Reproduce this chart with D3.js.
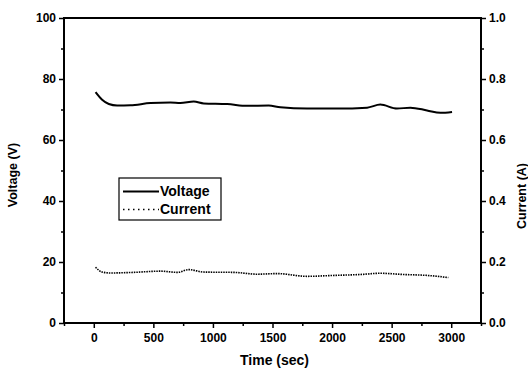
<!DOCTYPE html>
<html>
<head>
<meta charset="utf-8">
<script src="https://cdn.jsdelivr.net/npm/d3@7"></script>
<style>
  body { margin: 0; background: #fff; }
  text { font-family: "Liberation Sans", Arial, sans-serif; font-weight: bold; fill: #000; }
</style>
</head>
<body>
<div id="chart"></div>
<script>
// Data
const voltTime = [15, 70, 126, 196, 308, 476, 643, 727, 839, 923, 1119, 1287, 1468, 1566, 1790, 2042, 2294, 2405, 2545, 2657, 2797, 2909, 3007];
const voltage  = [75.7, 73.2, 71.8, 71.3, 71.4, 72.1, 72.3, 72.1, 72.6, 72.0, 71.8, 71.2, 71.3, 70.7, 70.3, 70.3, 70.6, 71.6, 70.3, 70.6, 69.7, 68.9, 69.2];
const currTime = [15, 70, 140, 334, 560, 700, 798, 923, 1175, 1371, 1538, 1790, 2014, 2237, 2405, 2601, 2797, 2976];
const current  = [0.183, 0.167, 0.164, 0.166, 0.170, 0.166, 0.175, 0.167, 0.166, 0.160, 0.162, 0.153, 0.156, 0.159, 0.163, 0.159, 0.156, 0.149];
const xTicks = [0, 500, 1000, 1500, 2000, 2500, 3000];
const yTicks = [0, 20, 40, 60, 80, 100];
const y2Ticks = [0, 0.2, 0.4, 0.6, 0.8, 1.0];

const margin = { top: 18, right: 47, bottom: 49, left: 64 };
const width = 528 - margin.left - margin.right;
const height = 372 - margin.top - margin.bottom;

const svg = d3.select("#chart")
    .append("svg")
    .attr("width", 528)
    .attr("height", 372)
    .append("g")
    .attr("transform", `translate(${margin.left},${margin.top})`);

const x = d3.scaleLinear().domain([-250, 3250]).range([0, width]);
const y = d3.scaleLinear().domain([0, 100]).range([height, 0]);
const y2 = d3.scaleLinear().domain([0, 1]).range([height, 0]);

// minor ticks
const minorX = d3.range(-250, 3251, 250).filter(v => !xTicks.includes(v));
svg.append("g")
    .attr("transform", `translate(0,${height})`)
    .call(d3.axisBottom(x).tickValues(minorX).tickSize(3).tickFormat(""));
svg.append("g")
    .call(d3.axisLeft(y).tickValues(d3.range(10, 100, 20)).tickSize(3).tickFormat(""));
svg.append("g")
    .attr("transform", `translate(${width},0)`)
    .call(d3.axisRight(y2).tickValues(d3.range(0.1, 1, 0.2)).tickSize(3).tickFormat(""));

// X Axis
svg.append("g")
    .attr("transform", `translate(0,${height})`)
    .call(d3.axisBottom(x).tickValues(xTicks).tickSize(5).tickPadding(5).tickFormat(d3.format("d")))
    .call(g => g.selectAll("text").style("font-size", "12px"));

// Y Axis (left)
svg.append("g")
    .call(d3.axisLeft(y).tickValues(yTicks).tickSize(5).tickPadding(3))
    .call(g => g.selectAll("text").style("font-size", "12px"));

// Y Axis (right)
svg.append("g")
    .attr("transform", `translate(${width},0)`)
    .call(d3.axisRight(y2).tickValues(y2Ticks).tickSize(5).tickPadding(3).tickFormat(d3.format(".1f")))
    .call(g => g.selectAll("text").style("font-size", "12px"));

svg.selectAll(".domain").remove();
svg.selectAll(".tick line").attr("stroke", "#000").attr("stroke-width", 1.5);

// frame
svg.append("rect")
    .attr("width", width).attr("height", height)
    .attr("fill", "none")
    .attr("stroke", "#000").attr("stroke-width", 2);

// Axis titles
svg.append("text")
    .attr("x", width / 2 + 2).attr("y", height + 42)
    .attr("text-anchor", "middle")
    .style("font-size", "14px")
    .text("Time (sec)");

svg.append("text")
    .attr("transform", `translate(${-47},${157}) rotate(-90)`)
    .attr("text-anchor", "middle")
    .style("font-size", "12.5px")
    .text("Voltage (V)");

svg.append("text")
    .attr("transform", `translate(${width + 45},${178}) rotate(-90)`)
    .attr("text-anchor", "middle")
    .style("font-size", "12.5px")
    .text("Current (A)");

// Lines
const vLine = d3.line()
    .x((d, i) => x(voltTime[i]))
    .y(d => y(d))
    .curve(d3.curveMonotoneX);

const cLine = d3.line()
    .x((d, i) => x(currTime[i]))
    .y(d => y2(d))
    .curve(d3.curveMonotoneX);

svg.append("path")
    .datum(voltage)
    .attr("fill", "none")
    .attr("stroke", "#000")
    .attr("stroke-width", 2)
    .attr("d", vLine);

svg.append("path")
    .datum(current)
    .attr("fill", "none")
    .attr("stroke", "#000")
    .attr("stroke-width", 1.6)
    .attr("stroke-dasharray", "1.5,1")
    .attr("d", cLine);

// Legend
const legend = svg.append("g").attr("transform", `translate(${119 - margin.left},${178 - margin.top})`);
legend.append("rect")
    .attr("width", 102).attr("height", 42)
    .attr("fill", "#fff")
    .attr("stroke", "#000").attr("stroke-width", 1.2);

const items = [
    { label: "Voltage", dash: null, w: 2 },
    { label: "Current", dash: "1.5,3.5", w: 1.6 }
];
items.forEach((it, i) => {
    const yy = 13.5 + i * 18;
    legend.append("line")
        .attr("x1", 4).attr("x2", 40)
        .attr("y1", yy).attr("y2", yy)
        .attr("stroke", "#000")
        .attr("stroke-width", it.w)
        .attr("stroke-dasharray", it.dash);
    legend.append("text")
        .attr("x", 41).attr("y", yy + 4.5)
        .style("font-size", "14px")
        .text(it.label);
});
</script>
</body>
</html>
